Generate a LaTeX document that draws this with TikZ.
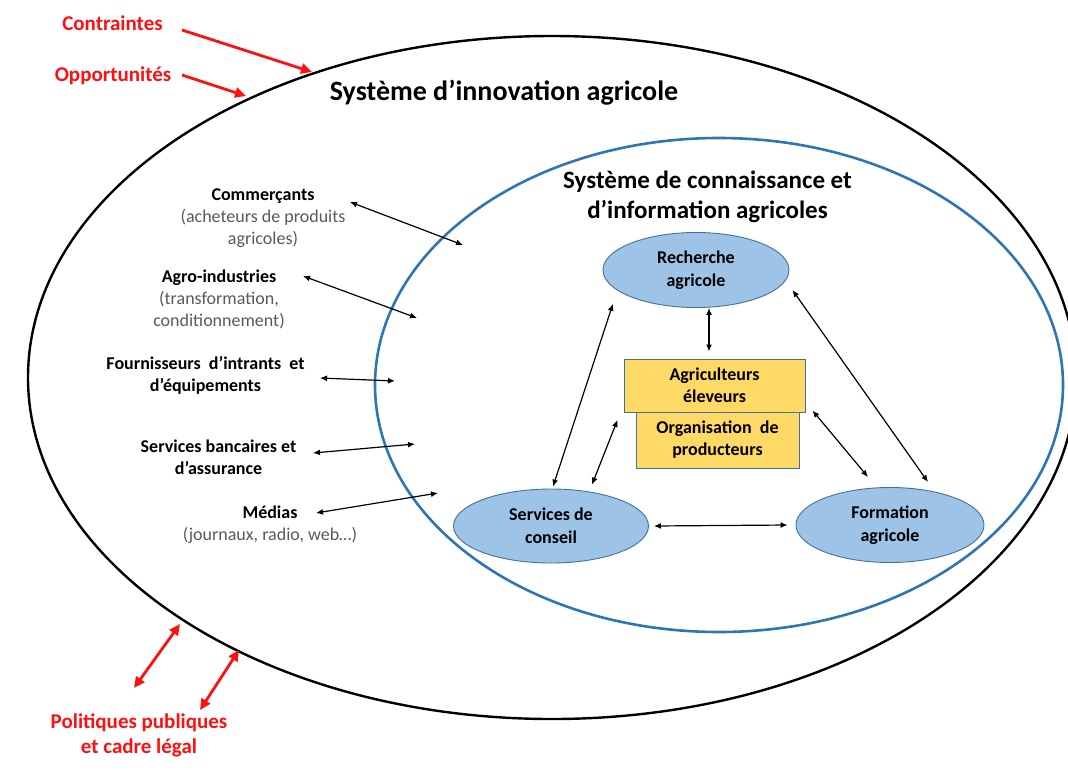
\documentclass[tikz,border=0pt]{standalone}
\usepackage{fontspec}
\setmainfont{Carlito}
\usetikzlibrary{arrows.meta,shapes.geometric}

\definecolor{sysblue}{HTML}{2E75B6}
\definecolor{nodefill}{HTML}{9DC3E6}
\definecolor{nodeline}{HTML}{41719C}
\definecolor{boxfill}{HTML}{FFD966}
\definecolor{subgray}{HTML}{595959}
\definecolor{alertred}{HTML}{FF1010}

\newcommand\fsz[2]{\fontsize{#1}{#2}\selectfont}

\tikzset{
  actor/.style={ellipse, draw=nodeline, line width=0.9pt, fill=nodefill, inner sep=0pt,
    align=center, font=\fsz{18}{23}\bfseries},
  farmbox/.style={rectangle, draw=nodeline, line width=1pt, fill=boxfill, inner sep=0pt,
    align=center, font=\fsz{18}{22}\bfseries},
  sidelabel/.style={align=center, inner sep=0pt, font=\fsz{18}{22}},
  titlelabel/.style={align=center, inner sep=0pt, font=\fsz{28}{30}\bfseries},
  subtitlelabel/.style={align=center, inner sep=0pt, font=\fsz{25}{29.5}\bfseries},
  redlabel/.style={align=center, inner sep=0pt, text=alertred, font=\fsz{21}{25}\bfseries},
  link/.style={line width=1.2pt, {Latex[length=7pt,width=6pt]}-{Latex[length=7pt,width=6pt]}},
  redlink/.style={draw=alertred, line width=2.8pt, -{Triangle[length=11pt,width=10pt]}},
  redbilink/.style={draw=alertred, line width=2.8pt,
    {Triangle[length=11pt,width=10pt]}-{Triangle[length=11pt,width=10pt]}}
}

\begin{document}
\begin{tikzpicture}[x=1pt,y=-1pt]
\useasboundingbox (0,0) rectangle (1068,769);
\clip (0,0) rectangle (1068,769);

% system boundaries
\node[ellipse, draw=black, line width=2.4pt, inner sep=0pt,
  minimum width=1048pt, minimum height=683pt] (sia) at (552,377.5) {};
\node[ellipse, draw=sysblue, line width=2.6pt, inner sep=0pt,
  minimum width=688pt, minimum height=494pt] (scia) at (719,385) {};

\node[titlelabel] (siatitle) at (504,93) {Système d’innovation agricole};
\node[subtitlelabel] (sciatitle) at (707.5,197) {Système de connaissance et\\d’information agricoles};

% core actors
\node[actor, minimum width=186pt, minimum height=75pt] (rech) at (696,270) {Recherche\\agricole};
\node[actor, minimum width=195pt, minimum height=74pt] (srv) at (551,526) {Services de\\conseil};
\node[actor, minimum width=188pt, minimum height=75pt] (form) at (890,525) {Formation\\agricole};

\node[farmbox, minimum width=163pt, minimum height=56pt] (org) at (717.5,440) {Organisation~ de\\producteurs};
\node[farmbox, minimum width=181pt, minimum height=53pt] (agri) at (714.5,385.5) {Agriculteurs\\éleveurs};

% links between core actors
\draw[link] ([xshift=13pt]rech.south) -- ([xshift=-5.5pt,yshift=7pt]agri.north);
\draw[link] ([xshift=2pt,yshift=2pt]srv.north) -- ([xshift=-17pt,yshift=-7pt]rech.south west);
\draw[link] ([xshift=41pt,yshift=4pt]srv.north) -- ([xshift=-18pt,yshift=20pt]org.west);
\draw[link] ([xshift=7pt,yshift=2pt]agri.south east) -- ([xshift=-22pt,yshift=10pt]form.north);
\draw[link] ([xshift=3pt,yshift=-20pt]rech.east) -- ([xshift=38pt,yshift=5pt]form.north);
\draw[link] ([xshift=5pt]srv.east) -- ([xshift=-8pt]form.west);

% surrounding actors
\node[sidelabel] (comm) at (263,218.5) {\textbf{Commerçants}\\\textcolor{subgray}{(acheteurs de produits}\\\textcolor{subgray}{agricoles)}};
\node[sidelabel] (agro) at (219,299) {\textbf{Agro-industries}\\\textcolor{subgray}{(transformation,}\\\textcolor{subgray}{conditionnement)}};
\node[sidelabel] (fourn) at (205.5,375.5) {\textbf{Fournisseurs~ d’intrants~ et}\\\textbf{d’équipements}};
\node[sidelabel] (banq) at (218.5,457) {\textbf{Services bancaires et}\\\textbf{d’assurance}};
\node[sidelabel] (media) at (270,525) {\textbf{Médias}\\\textcolor{subgray}{(journaux, radio, web…)}};

\coordinate (comm-a) at (350,202);  \coordinate (comm-b) at (463,245);
\coordinate (agro-a) at (303,276);  \coordinate (agro-b) at (417,318);
\coordinate (fourn-a) at (320,378); \coordinate (fourn-b) at (395,381);
\coordinate (banq-a) at (313,453);  \coordinate (banq-b) at (415,444);
\coordinate (media-a) at (316,513); \coordinate (media-b) at (438,493);

\draw[link] (comm-a) -- (comm-b);
\draw[link] (agro-a) -- (agro-b);
\draw[link] (fourn-a) -- (fourn-b);
\draw[link] (banq-a) -- (banq-b);
\draw[link] (media-a) -- (media-b);

% external influences
\node[redlabel] (contr) at (112.5,23) {Contraintes};
\node[redlabel] (oppo) at (113,76) {Opportunités};
\node[redlabel] (polit) at (139,735) {Politiques publiques\\et cadre légal};

\coordinate (contr-a) at (182,30);  \coordinate (contr-b) at (312,72);
\coordinate (oppo-a) at (182,75);   \coordinate (oppo-b) at (246,96);
\coordinate (pol1-a) at (134,688);  \coordinate (pol1-b) at (180,624);
\coordinate (pol2-a) at (200,710);  \coordinate (pol2-b) at (239,650);

\draw[redlink] (contr-a) -- (contr-b);
\draw[redlink] (oppo-a) -- (oppo-b);
\draw[redbilink] (pol1-a) -- (pol1-b);
\draw[redbilink] (pol2-a) -- (pol2-b);
\end{tikzpicture}
\end{document}
